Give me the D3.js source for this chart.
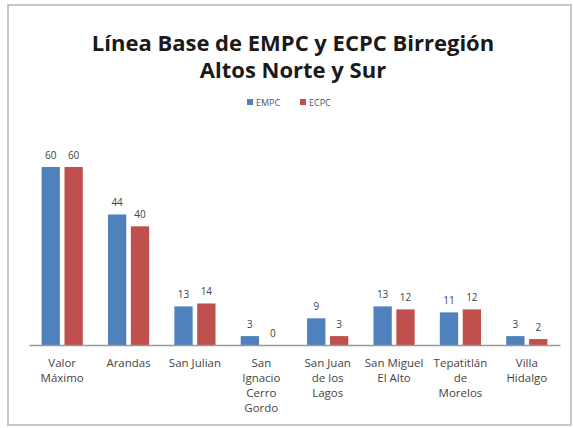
<!DOCTYPE html>
<html>
<head>
<meta charset="utf-8">
<script src="https://cdn.jsdelivr.net/npm/d3@7"></script>
<style>
  html, body { margin: 0; padding: 0; background: #fff; }
  svg { display: block; }
  text { font-family: "Open Sans", "DejaVu Sans", sans-serif; }
</style>
</head>
<body>
<svg id="chart"></svg>
<script>
// Linea base chart

const width = 573;
const height = 428;

const categories = [
    ["Valor", "Máximo"],
    ["Arandas"],
    ["San Julian"],
    ["San", "Ignacio", "Cerro", "Gordo"],
    ["San Juan", "de los", "Lagos"],
    ["San Miguel", "El Alto"],
    ["Tepatitlán", "de", "Morelos"],
    ["Villa", "Hidalgo"]
];
const seriesNames = ["EMPC", "ECPC"];
const empcValues = [60, 44, 13, 3, 9, 13, 11, 3];
const ecpcValues = [60, 40, 14, 0, 3, 12, 12, 2];

const colors = { EMPC: "#4F81BD", ECPC: "#C0504D" };

const plotLeft = 29;
const plotRight = 560;
const plotTop = 167;
const baseY = 345;

const data = categories.map((c, i) => ({
    key: c.join(" "),
    lines: c,
    EMPC: empcValues[i],
    ECPC: ecpcValues[i]
}));

const bars = [];
data.forEach(d => seriesNames.forEach(s => bars.push({ key: d.key, s: s, v: d[s] })));

const labelLines = [];
data.forEach(d => d.lines.forEach((t, i) => labelLines.push({ key: d.key, t: t, i: i })));

const svg = d3.select("#chart")
    .attr("width", width)
    .attr("height", height);

// frame
svg.append("rect")
    .attr("x", 8)
    .attr("y", 5)
    .attr("width", 563)
    .attr("height", 420)
    .attr("fill", "#fff")
    .attr("stroke", "#c8c8c8")
    .attr("stroke-width", 2);

// title
svg.selectAll(".title")
    .data(["Línea Base de EMPC y ECPC Birregión", "Altos Norte y Sur"])
    .enter()
    .append("text")
    .attr("class", "title")
    .attr("x", 293)
    .attr("y", (d, i) => 51 + i * 27)
    .attr("text-anchor", "middle")
    .attr("font-size", 22)
    .attr("font-weight", "bold")
    .attr("fill", "#1a1a1a")
    .text(d => d);

// legend
const legendX = [247, 300];
svg.selectAll(".legend-box")
    .data(seriesNames)
    .enter()
    .append("rect")
    .attr("class", "legend-box")
    .attr("x", (d, i) => legendX[i])
    .attr("y", 99)
    .attr("width", 6)
    .attr("height", 6)
    .attr("fill", d => colors[d]);
svg.selectAll(".legend-text")
    .data(seriesNames)
    .enter()
    .append("text")
    .attr("class", "legend-text")
    .attr("x", (d, i) => legendX[i] + 9)
    .attr("y", 106)
    .attr("font-size", 9)
    .attr("fill", "#555")
    .text(d => d);

const x0 = d3.scaleBand()
    .domain(data.map(d => d.key))
    .range([plotLeft, plotRight]);

const x1 = d3.scaleBand()
    .domain(seriesNames)
    .range([0, x0.bandwidth()])
    .paddingInner(0.2)
    .paddingOuter(0.55);

const y = d3.scaleLinear()
    .domain([0, 60])
    .range([baseY, plotTop]);

svg.selectAll(".bar")
    .data(bars)
    .enter()
    .append("rect")
    .attr("class", "bar")
    .attr("x", d => x0(d.key) + x1(d.s))
    .attr("y", d => y(d.v))
    .attr("width", x1.bandwidth())
    .attr("height", d => baseY - y(d.v))
    .attr("fill", d => colors[d.s]);

svg.selectAll(".val")
    .data(bars)
    .enter()
    .append("text")
    .attr("class", "val")
    .attr("x", d => x0(d.key) + x1(d.s) + x1.bandwidth() / 2)
    .attr("y", d => y(d.v) - 8)
    .attr("text-anchor", "middle")
    .attr("font-size", 10)
    .attr("fill", "#444")
    .text(d => d.v);

// baseline axis
const xAxis = d3.axisBottom(x0).tickSize(0).tickFormat("");
svg.append("g")
    .attr("transform", "translate(0," + baseY + ")")
    .call(xAxis)
    .call(a => a.select(".domain").attr("stroke", "#999").attr("stroke-width", 1.5));

// category labels
svg.selectAll(".cat-label")
    .data(labelLines)
    .enter()
    .append("text")
    .attr("class", "cat-label")
    .attr("x", d => x0(d.key) + x0.bandwidth() / 2)
    .attr("y", d => baseY + 22 + d.i * 15)
    .attr("text-anchor", "middle")
    .attr("font-size", 11.5)
    .attr("fill", "#444")
    .text(d => d.t);
</script>
</body>
</html>
